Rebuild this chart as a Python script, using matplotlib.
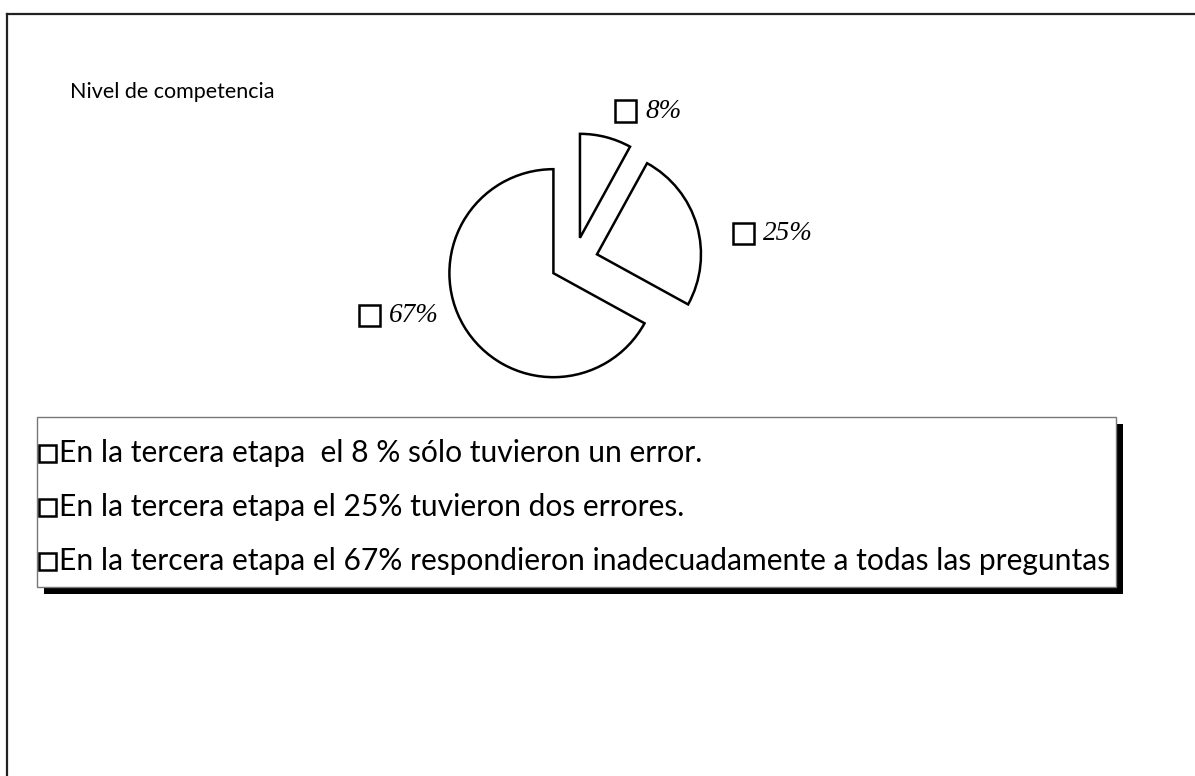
import matplotlib.pyplot as plt
from matplotlib.patches import Rectangle
from matplotlib.lines import Line2D

shares = [8, 25, 67]
pct_labels = ['8%', '25%', '67%']
legend_texts = [
    'En la tercera etapa  el 8 % sólo tuvieron un error.',
    'En la tercera etapa el 25% tuvieron dos errores.',
    'En la tercera etapa el 67% respondieron inadecuadamente a todas las preguntas',
]
title = 'Nivel de competencia'

W, H = 1195, 776
fig = plt.figure(figsize=(W / 100, H / 100), dpi=100)


def fx(x):
    return x / W


def fy(y):
    return 1 - y / H


def box(x, y, w, h, **kw):
    # rectangle given in pixel coords, y measured from the top
    r = Rectangle((fx(x), fy(y + h)), w / W, h / H, transform=fig.transFigure, **kw)
    fig.add_artist(r)
    return r


# page frame (left and top edges only)
fig.add_artist(Line2D([fx(7), fx(7)], [fy(14), 0], transform=fig.transFigure, color='#222', lw=1.6))
fig.add_artist(Line2D([fx(7), 1], [fy(14), fy(14)], transform=fig.transFigure, color='#222', lw=1.6))

fig.text(fx(70), fy(92), title, fontsize=15.5, family='Lato', va='center', ha='left')

# exploded pie
cx, cy, r, half = 574, 261, 104, 150
ax = fig.add_axes([fx(cx - half), fy(cy + half), 2 * half / W, 2 * half / H])
wedges, _ = ax.pie(shares, explode=[0.23] * len(shares), startangle=90, counterclock=False,
                   colors=['white'] * len(shares),
                   wedgeprops=dict(edgecolor='black', linewidth=1.8))
ax.set_xlim(-half / r, half / r)
ax.set_ylim(-half / r, half / r)

# percentage labels with their empty key squares
label_pos = [(615, 111), (733, 233), (359, 315)]
for (x, y), lab in zip(label_pos, pct_labels):
    box(x, y - 10.5, 21, 21, fill=False, edgecolor='black', lw=1.8)
    fig.text(fx(x + 30), fy(y), lab, fontsize=19.5, family='Liberation Serif', style='italic',
             va='center', ha='left')

# legend panel with solid drop shadow
lx0, ly0, lx1, ly1 = 37, 417, 1116, 587
box(lx0 + 7, ly0 + 7, lx1 - lx0, ly1 - ly0, facecolor='black', edgecolor='black', lw=0)
box(lx0, ly0, lx1 - lx0, ly1 - ly0, facecolor='white', edgecolor='#777', lw=1)

row_y = [453, 507, 561]
for y, txt in zip(row_y, legend_texts):
    box(39, y - 8.5, 17, 17, fill=False, edgecolor='black', lw=1.8)
    fig.text(fx(59), fy(y), txt, fontsize=21.6, family='Lato', va='center', ha='left')

fig.savefig('out.png', dpi=100)
